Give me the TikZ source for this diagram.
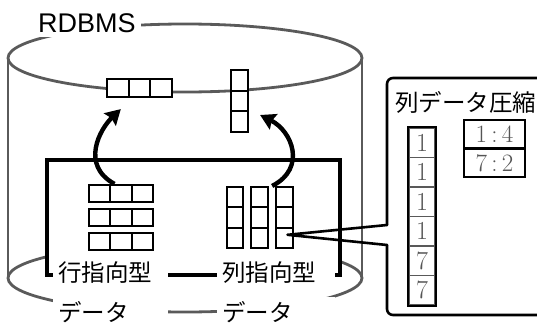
\documentclass[tikz,border=0pt]{standalone}
\usepackage{fontspec}
\newfontfamily\jp{Noto Sans CJK JP}
\newfontfamily\lsans{Liberation Sans}
\usetikzlibrary{arrows.meta}
\definecolor{cyl}{RGB}{90,90,90}
\definecolor{numc}{RGB}{85,85,85}
\begin{document}
\begin{tikzpicture}[x=1pt,y=-1pt,
  cylline/.style={draw=cyl,line width=2.8pt},
  boxline/.style={draw=black,line width=3.6pt},
  cell/.style={draw=black,line width=2.2pt,fill=white,inner sep=0pt,rectangle},
  bigarrow/.style={draw=black,line width=4.4pt,-{Stealth[length=15pt,width=17pt,inset=2pt]}},
  lab/.style={font=\jp\fontsize{23.5}{28}\selectfont,fill=white,anchor=base west,
    inner xsep=5pt,inner ysep=0pt,text height=21pt,text depth=8pt,text width=105pt,align=left},
  callout/.style={draw=black,line width=2.6pt,line cap=round,line join=round},
  numcell/.style={draw=gray!70!black,line width=1.6pt,minimum width=26pt,minimum height=29.5pt,
    inner sep=0pt,text=numc,font=\fontsize{26}{26}\selectfont},
  ccell/.style={draw=black,line width=2.6pt,minimum width=61pt,minimum height=28.5pt,
    inner sep=0pt,text=numc,font=\fontsize{25}{25}\selectfont}]
\useasboundingbox (0,0) rectangle (537,324);
% cylinder
\draw[cylline] (185,278) ellipse [x radius=177, y radius=34];
\draw[cylline] (8,58) -- (8,278) (362,58) -- (362,278);
\draw[cylline] (185,58) ellipse [x radius=177, y radius=34];
% inner box
\draw[boxline,fill=white] (47,160) rectangle (340,275);
% row-oriented table
\foreach \r/\y in {1/193.5,2/217.5,3/241.5}{
  \foreach \c/\x in {1/99.67,2/121,3/142.33}{
    \node[cell,minimum width=21.33pt,minimum height=17pt] (r\r\c) at (\x,\y) {};
  }
}
% column-oriented table
\foreach \c/\x in {1/235,2/259.5,3/284.5}{
  \foreach \r/\y in {1/197.2,2/217.5,3/237.8}{
    \node[cell,minimum width=16.5pt,minimum height=20.3pt] (c\c\r) at (\x,\y) {};
  }
}
% top row record
\foreach \c/\x in {1/117.8,2/139.5,3/161.2}{
  \node[cell,minimum width=21.67pt,minimum height=18pt] (tr\c) at (\x,88) {};
}
% top column
\foreach \r/\y in {1/80.3,2/101,3/121.7}{
  \node[cell,minimum width=17pt,minimum height=20.67pt] (tc\r) at (239.5,\y) {};
}
% arrows
\draw[bigarrow] ([xshift=3pt]r11.north east) .. controls (80,165) and (100,129) .. ([xshift=3pt,yshift=-11pt]tr1.south);
\draw[bigarrow] ([xshift=-3pt]c31.north west) .. controls (307,168) and (292,131) .. ([xshift=11pt,yshift=6.7pt]tc3.east);
% labels
\node[lab] (rowl) at (53,281) {行指向型};
\node[lab,text height=24pt] (rowd) at (53,321) {データ};
\node[lab,text width=108pt] (coll) at (217,281) {列指向型};
\node[lab,text width=108pt,text height=24pt] (cold) at (217,321) {データ};
% RDBMS
\node[font=\lsans\fontsize{27}{30}\selectfont,fill=white,anchor=base west,
  inner xsep=5pt,inner ysep=4.5pt,text depth=0pt] (rdbms) at (33,32) {RDBMS};
% callout
\coordinate (tip) at ([xshift=3pt,yshift=3pt]c33.center);
\draw[callout,rounded corners=6pt] (387,225) -- (387,78) -- (545,78) -- (545,315) -- (387,315) -- (387,245);
\draw[callout] (387,225) -- (tip) -- (387,245);
\node[font=\jp\fontsize{23.5}{28}\selectfont,anchor=base west,inner sep=0pt] (ctitle) at (395,111) {列データ圧縮};
\foreach \i/\v in {1/1,2/1,3/1,4/1,5/7,6/7}{
  \node[numcell] (n\i) at (422,{113.25+29.5*\i}) {\v};
}
\draw[line width=2.4pt] (n1.north west) rectangle (n6.south east);
\node[ccell] (k1) at (494.5,134.25) {1\,:\,4};
\node[ccell] (k2) at (494.5,162.75) {7\,:\,2};
\end{tikzpicture}
\end{document}
